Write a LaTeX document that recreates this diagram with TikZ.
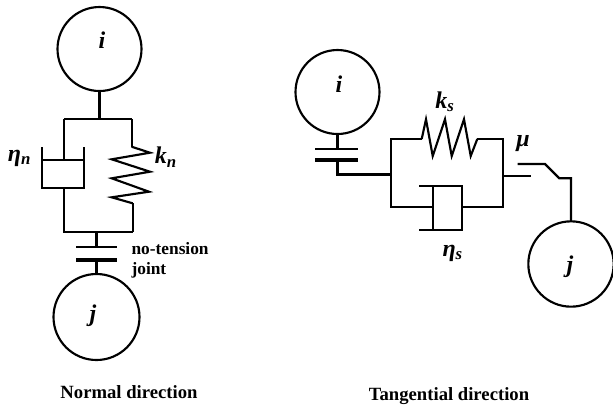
\documentclass[tikz,border=0pt]{standalone}
\usepackage{fontspec}
\setmainfont{Liberation Serif}
\tikzset{
	mass/.style={circle, draw, line width=1.6pt, minimum size=#1, inner sep=0pt, outer sep=0pt},
	symb/.style={inner sep=0pt, font=\bfseries\itshape\fontsize{18}{18}\selectfont},
	capt/.style={inner sep=0pt, font=\bfseries\fontsize{14}{14}\selectfont},
	jointlab/.style={inner sep=0pt, font=\bfseries\fontsize{13}{15}\selectfont}
}
\tikzset{
	every path/.append style={line width=1.6pt, line join=miter},
	thick plate/.style={line width=3.6pt},
	thin plate/.style={line width=2pt}
}

\begin{document}
\begin{tikzpicture}[x=0.75pt, y=-0.75pt]
	\useasboundingbox (0,0) rectangle (613,405);

	\node (ni) [mass=63pt] at (99.5,49) {};
	\node (nilab) [symb] at (102,40) {i};
	\node (nj) [mass=64.5pt] at (96.5,317) {};
	\node (njlab) [symb] at (93,316) {j};
	\coordinate (ntop) at (99.5,119);
	\coordinate (ntl) at (64,119);
	\coordinate (ntr) at (131.6,119);
	\coordinate (ndt) at (64,160);
	\coordinate (ndb) at (64,188);
	\coordinate (nbl) at (64,232);
	\coordinate (nbr) at (132.7,232);
	\coordinate (nbm) at (96.5,232);
	\coordinate (nst) at (131.6,146.7);
	\coordinate (nsb) at (132.7,203.3);
	\coordinate (npa) at (96.5,247);
	\coordinate (npb) at (96.5,260);
	\coordinate (npal) at (76,247);
	\coordinate (npar) at (117,247);
	\coordinate (npbl) at (76,260);
	\coordinate (npbr) at (117,260);

	\draw (ni) -- (ntop);
	\draw (ntl) -- (ntr);
	\draw (ntl) -- (ndt);
	\draw (ndb) -- (nbl) -- (nbr);
	\draw (ntr) -- (nst);
	\draw (nsb) -- (nbr);
	\draw (nst) -- (150,152.7) -- (111.7,159.3) -- (150,171.7) -- (111.7,178.3) -- (149,191.7) -- (111.7,197.3) -- (nsb);
	\draw (42,147) -- (42,188) -- (84,188) -- (84,147);
	\draw (42,160) -- (84,160);
	\draw (nbm) -- (npa);
	\draw (npb) -- (nj);
	\draw [thin plate] (npal) -- (npar);
	\draw [thick plate] (npbl) -- (npbr);

	\node (etan) [symb] at (19.5,158) {η\textsubscript{n}};
	\node (kn) [symb] at (166,157) {k\textsubscript{n}};
	\node (joint) [jointlab, anchor=north west, align=left] at (130.5,241) {no-tension\\joint};
	\node (normal) [capt] at (129,392) {Normal direction};

	\node (ti) [mass=63pt] at (337.5,92) {};
	\node (tilab) [symb] at (339,84) {i};
	\node (tj) [mass=64pt] at (571,264) {};
	\node (tjlab) [symb] at (570,267) {j};
	\coordinate (tpa) at (337.5,149);
	\coordinate (tpb) at (337.5,160);
	\coordinate (tpal) at (315,149);
	\coordinate (tpar) at (358,149);
	\coordinate (tpbl) at (315,160);
	\coordinate (tpbr) at (358,160);
	\coordinate (tc) at (337.5,174.5);
	\coordinate (tm) at (391,174.5);
	\coordinate (ttl) at (391,139);
	\coordinate (tbl) at (391,207);
	\coordinate (ttr) at (503.3,139);
	\coordinate (tbr) at (503.3,207);
	\coordinate (tsl) at (421.7,139);
	\coordinate (tsr) at (477.3,139);
	\coordinate (tda) at (433.3,207);
	\coordinate (tdb) at (461.7,207);
	\coordinate (tfa) at (503.3,176);
	\coordinate (tfb) at (531,176);
	\coordinate (tfc) at (517.7,164);
	\coordinate (tfd) at (571,178.3);

	\draw (ti) -- (tpa);
	\draw [thin plate] (tpal) -- (tpar);
	\draw [thick plate] (tpbl) -- (tpbr);
	\draw (tpb) -- (tc) -- (tm);
	\draw (tsl) -- (ttl) -- (tbl) -- (tda);
	\draw (tsr) -- (ttr) -- (tbr) -- (tdb);
	\draw (tsl) -- (426,119.3) -- (432.7,156) -- (445,119.3) -- (451.7,156) -- (464,119.3) -- (470.7,156) -- (tsr);
	\draw (419.3,186) -- (461.7,186) -- (461.7,230) -- (419.3,230);
	\draw (433.3,186) -- (433.3,230);
	\draw (tfa) -- (tfb);
	\draw (tfc) -- (545,164) -- (559.3,178.3) -- (tfd) -- (tj);

	\node (ks) [symb] at (445,102) {k\textsubscript{s}};
	\node (etas) [symb] at (452.7,253) {η\textsubscript{s}};
	\node (mu) [symb] at (523,144) {μ};
	\node (tang) [capt] at (449,396) {Tangential direction};
\end{tikzpicture}
\end{document}
